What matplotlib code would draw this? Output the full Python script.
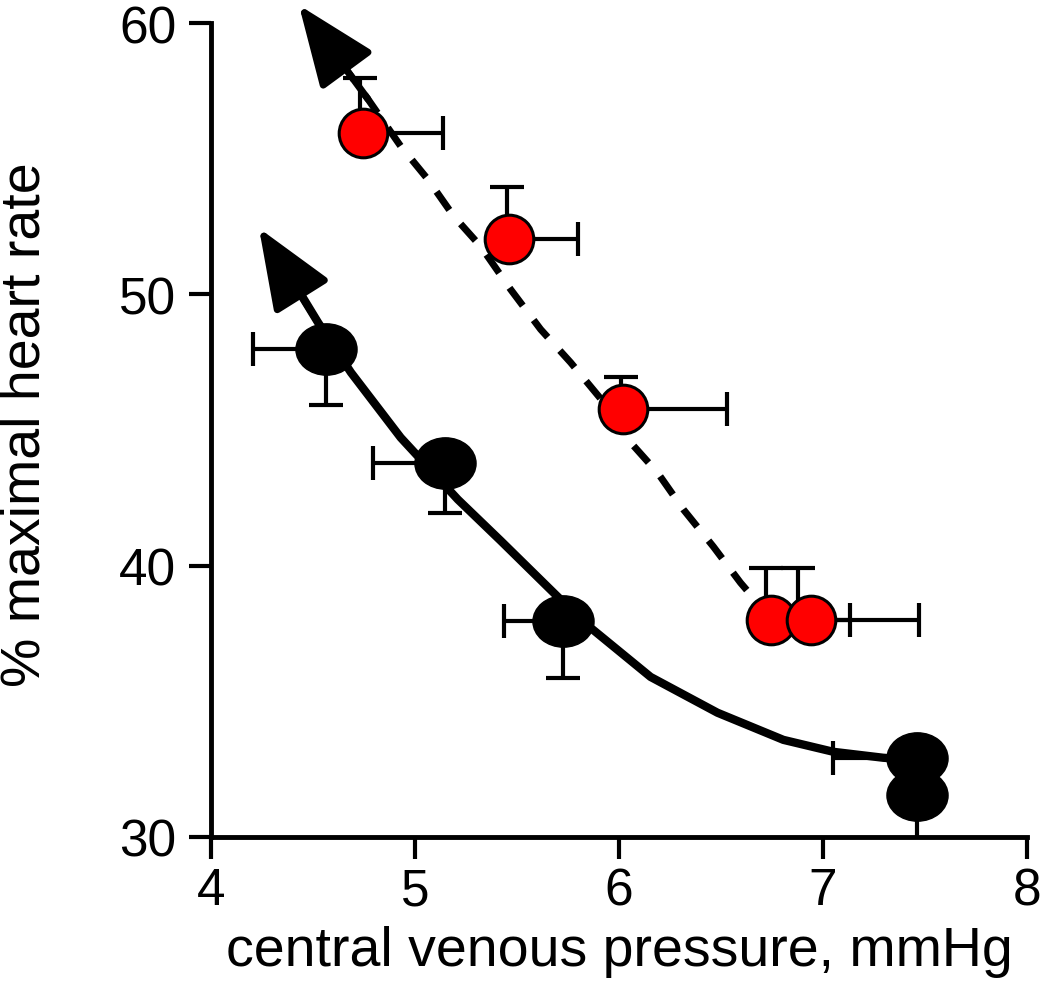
import numpy as np
import matplotlib
matplotlib.use("Agg")
import matplotlib.pyplot as plt
from matplotlib.path import Path
from matplotlib.transforms import Affine2D

plt.rcParams['font.family'] = ['Liberation Sans', 'DejaVu Sans']

# red group (dashed fit)
red_x = [4.745, 5.46, 6.02, 6.745, 6.94]
red_y = [55.94, 52.03, 45.76, 38.0, 38.0]
red_x_right = [5.135, 5.80, 6.53, 7.134, 7.47]
red_stem_x = [4.73, 5.45, 6.01, 6.72, 6.88]
red_y_top = [57.97, 53.95, 46.94, 39.9, 39.9]

# black group (solid fit)
blk_x = [4.564, 5.147, 5.725, 7.46, 7.46]
blk_y = [48.0, 43.8, 37.95, 32.9, 31.55]
blk_x_left = [4.206, 4.793, 5.435, 7.051, 7.46]
blk_y_low = [45.94, 41.96, 35.87, 32.9, 29.8]

# fitted curves
blk_fit_x = [4.426, 4.524, 4.686, 4.930, 5.210, 5.420, 5.699, 5.861, 6.155,
             6.483, 6.806, 7.051, 7.296, 7.457]
blk_fit_y = [50.18, 48.97, 47.12, 44.72, 42.44, 40.92, 38.86, 37.71, 35.90,
             34.58, 33.58, 33.14, 32.92, 32.84]
red_fit_x = [4.637, 4.769, 4.930, 5.063, 5.190, 5.322, 5.469, 5.616, 5.763,
             5.934, 6.057, 6.189, 6.316, 6.463, 6.596, 6.654]
red_fit_y = [58.56, 57.20, 55.46, 54.24, 52.88, 51.77, 50.18, 48.71, 47.49,
             45.94, 44.54, 43.43, 42.07, 40.70, 39.37, 38.86]

blk_tip = (4.235, 52.44)
red_tip = (4.431, 60.66)

fig = plt.figure(figsize=(10.5, 9.95), dpi=100)
ax = fig.add_axes([0.201, 0.1578, 0.777, 0.818])

ax.plot(blk_fit_x, blk_fit_y, color='black', lw=6, solid_capstyle='round',
        solid_joinstyle='round', zorder=2)
ax.plot(red_fit_x, red_fit_y, color='black', lw=5, linestyle=(0, (3.2, 2.6)), zorder=2)

arrow_style = '-|>,head_length=50,head_width=20'
ax.annotate('', xy=blk_tip, xytext=(blk_fit_x[1], blk_fit_y[1]),
            arrowprops=dict(arrowstyle=arrow_style, color='black', lw=5,
                            shrinkA=0, shrinkB=0, mutation_scale=1),
            annotation_clip=False, zorder=3)
ax.annotate('', xy=red_tip, xytext=(red_fit_x[1], red_fit_y[1]),
            arrowprops=dict(arrowstyle=arrow_style, color='black', lw=5,
                            shrinkA=0, shrinkB=0, mutation_scale=1),
            annotation_clip=False, zorder=3)

eb = dict(fmt='none', ecolor='black', elinewidth=3, capsize=12.5, capthick=3, zorder=3)

rx = np.array(red_x)
ry = np.array(red_y)
ax.errorbar(rx, ry, xerr=[np.zeros(5), np.array(red_x_right) - rx], **eb)
ax.errorbar(red_stem_x, ry, yerr=[np.zeros(5), np.array(red_y_top) - ry], **eb)

bx = np.array(blk_x)
by = np.array(blk_y)
bxl = bx - np.array(blk_x_left)
byl = by - np.array(blk_y_low)
for i in range(5):
    if bxl[i] > 0:
        ax.errorbar(bx[i], by[i], xerr=[[bxl[i]], [0]], **eb)
    if byl[i] > 0:
        ax.errorbar(bx[i], by[i], yerr=[[byl[i]], [0]], **eb)

ellipse = Path.unit_circle().transformed(Affine2D().scale(1.0, 0.84))
ax.plot(blk_x, blk_y, linestyle='none', marker=ellipse, ms=44,
        color='black', zorder=4, clip_on=False)
ax.plot(red_x, red_y, linestyle='none', marker='o', ms=35,
        markerfacecolor='#ff0000', markeredgecolor='black', markeredgewidth=2.2,
        zorder=5, clip_on=False)

ax.set_xlim(4, 8)
ax.set_ylim(30, 60)
ax.set_xticks([4, 5, 6, 7, 8])
ax.set_yticks([30, 40, 50, 60])
for s in ['top', 'right']:
    ax.spines[s].set_visible(False)
for s in ['left', 'bottom']:
    ax.spines[s].set_linewidth(3.5)
ax.tick_params(direction='out', length=16, width=3, labelsize=37, color='black')
ax.tick_params(axis='y', pad=9)
ax.tick_params(axis='x', pad=5)

fig.text(0.590, 0.029, 'central venous pressure, mmHg', fontsize=40,
         ha='center', va='baseline')
fig.text(0.038, 0.573, '% maximal heart rate', fontsize=40, rotation=90,
         rotation_mode='anchor', ha='center', va='baseline')

fig.savefig('out.png', dpi=100)
